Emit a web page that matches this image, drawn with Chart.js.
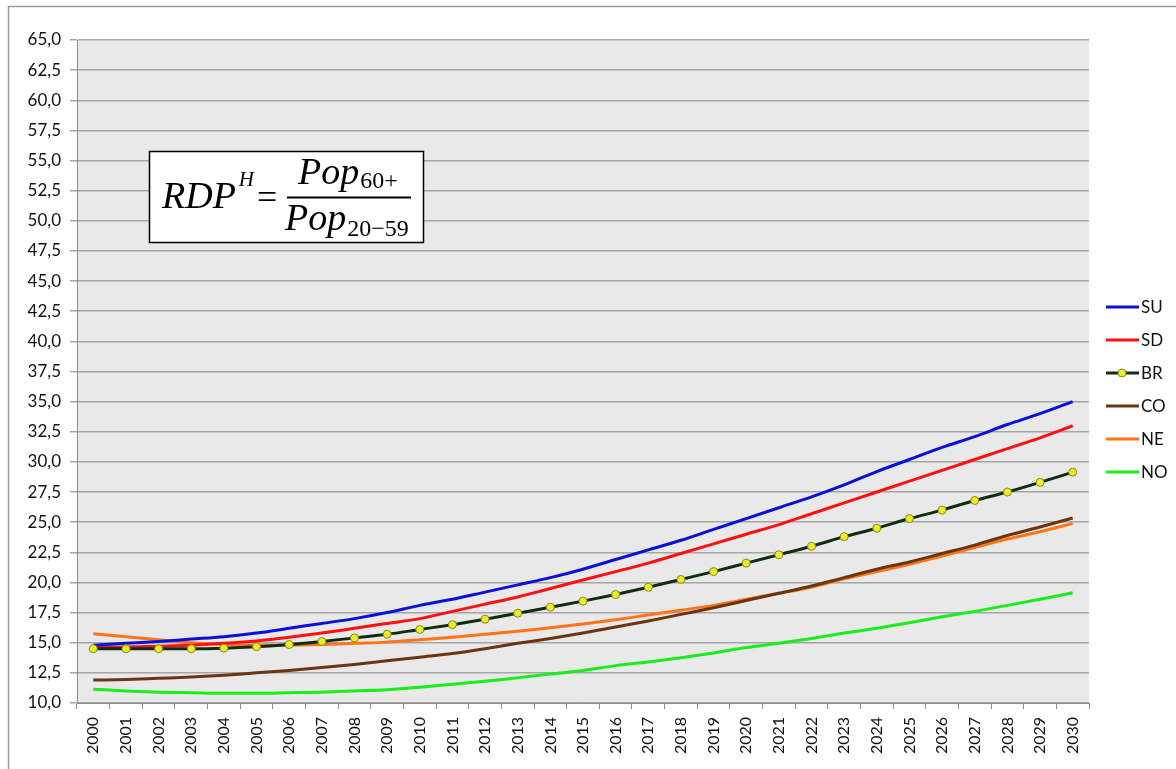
<!DOCTYPE html>
<html>
<head>
<meta charset="utf-8">
<script src="https://cdn.jsdelivr.net/npm/chart.js@4"></script>
<style>
html,body{margin:0;padding:0;background:#fff;}
#wrap{position:relative;width:1176px;height:769px;}
</style>
</head>
<body>
<div id="wrap"><canvas id="c" width="1176" height="769"></canvas></div>
<script>
const years = [2000,2001,2002,2003,2004,2005,2006,2007,2008,2009,2010,2011,2012,2013,2014,2015,2016,2017,2018,2019,2020,2021,2022,2023,2024,2025,2026,2027,2028,2029,2030].map(String);
const SU = [14.8,14.95,15.1,15.3,15.5,15.8,16.2,16.6,17.0,17.5,18.1,18.6,19.2,19.8,20.4,21.1,21.9,22.7,23.5,24.4,25.3,26.2,27.1,28.1,29.2,30.2,31.2,32.1,33.1,34.0,35.0];
const SD = [14.6,14.65,14.7,14.8,14.95,15.15,15.45,15.8,16.2,16.6,17.0,17.6,18.2,18.8,19.5,20.2,20.9,21.6,22.4,23.2,24.0,24.8,25.7,26.6,27.5,28.4,29.3,30.2,31.1,32.0,33.0];
const BR = [14.5,14.5,14.5,14.5,14.55,14.67,14.85,15.1,15.4,15.7,16.1,16.5,16.95,17.45,17.95,18.45,19.0,19.6,20.25,20.9,21.6,22.3,23.0,23.8,24.5,25.3,26.0,26.8,27.5,28.3,29.15];
const CO = [11.9,11.95,12.05,12.15,12.3,12.5,12.7,12.95,13.2,13.5,13.8,14.1,14.5,14.95,15.35,15.8,16.3,16.8,17.35,17.9,18.5,19.1,19.7,20.4,21.1,21.7,22.4,23.1,23.9,24.6,25.35];
const NE = [15.75,15.5,15.25,15.0,14.85,14.8,14.8,14.85,14.95,15.05,15.25,15.45,15.7,15.95,16.25,16.55,16.9,17.3,17.7,18.1,18.6,19.1,19.6,20.3,20.9,21.5,22.2,22.9,23.6,24.2,24.9];
const NO = [11.15,11.0,10.9,10.85,10.8,10.8,10.85,10.9,11.0,11.1,11.3,11.55,11.8,12.1,12.4,12.7,13.1,13.4,13.75,14.15,14.6,14.95,15.35,15.8,16.2,16.65,17.15,17.6,18.1,18.6,19.15];
const seriesNames = ['SU','SD','BR','CO','NE','NO'];
const seriesData = [SU,SD,BR,CO,NE,NO];
const seriesColors = ['#0a10d8','#ff1010','#0e2e0e','#6a3510','#ff7415','#18ee18'];
const yMin = 10, yMax = 65, yStep = 2.5;

const FONT = 'Lato, "Open Sans", sans-serif';

const datasets = seriesNames.map((n,i)=>({
  label:n,
  data:seriesData[i],
  borderColor:seriesColors[i],
  backgroundColor:seriesColors[i],
  borderWidth:3,
  tension:0.35,
  cubicInterpolationMode:'monotone',
  pointRadius: n==='BR'?4:0,
  pointBackgroundColor: n==='BR'?'#ecec2a':seriesColors[i],
  pointBorderColor: n==='BR'?'#8a8a1a':seriesColors[i],
  pointBorderWidth:1
}));
datasets.forEach((d,i)=>{ d.order = (d.label==='BR')?0:(i+1); });

const bgPlugin = {
  id:'bg',
  beforeDraw(chart){
    const {ctx, chartArea:a} = chart;
    ctx.save();
    ctx.fillStyle='#e9e9e9';
    ctx.fillRect(a.left,a.top,a.right-a.left,a.bottom-a.top);
    ctx.strokeStyle='#9a9a9a';
    ctx.lineWidth=1.5;
    ctx.beginPath();
    ctx.moveTo(8.5,769);
    ctx.lineTo(8.5,6.5);
    ctx.lineTo(1176,6.5);
    ctx.stroke();
    ctx.restore();
  },
  afterDraw(chart){
    const ctx = chart.ctx;
    ctx.save();
    const ly0 = 307, lsp = 33;
    chart.data.datasets.forEach((d,i)=>{
      const y = ly0 + i*lsp;
      ctx.strokeStyle=d.borderColor;
      ctx.lineWidth=3;
      ctx.beginPath(); ctx.moveTo(1106,y); ctx.lineTo(1139,y); ctx.stroke();
      if(d.pointRadius>0){
        ctx.fillStyle=d.pointBackgroundColor; ctx.strokeStyle=d.pointBorderColor; ctx.lineWidth=1;
        ctx.beginPath(); ctx.arc(1122,y,4,0,Math.PI*2); ctx.fill(); ctx.stroke();
      }
      ctx.fillStyle='#111';
      ctx.font='17px '+FONT;
      ctx.textBaseline='middle'; ctx.textAlign='left';
      ctx.fillText(d.label,1141,y+1);
    });
    // formula box
    ctx.fillStyle='#fff';
    ctx.fillRect(149,151,275,92);
    ctx.strokeStyle='#000'; ctx.lineWidth=1.5;
    ctx.strokeRect(149.5,151.5,274,91);
    ctx.fillStyle='#000';
    ctx.textBaseline='alphabetic'; ctx.textAlign='left';
    const serif='"Liberation Serif", "DejaVu Serif", serif';
    ctx.font='italic 38px '+serif;
    ctx.fillText('RDP',162,208);
    const wR = ctx.measureText('RDP').width;
    ctx.font='italic 21px '+serif;
    ctx.fillText('H',162+wR+3,186);
    ctx.font='36px '+serif;
    ctx.fillText('=',257,209);
    ctx.font='italic 38px '+serif;
    ctx.fillText('Pop',298,184);
    const wP = ctx.measureText('Pop').width;
    ctx.fillText('Pop',285,230);
    ctx.font='24px '+serif;
    ctx.fillText('60+',298+wP+1,188);
    ctx.fillText('20\u221259',285+wP+1,236);
    ctx.lineWidth=2;
    ctx.beginPath(); ctx.moveTo(287,197.5); ctx.lineTo(411,197.5); ctx.stroke();
    ctx.restore();
  }
};

new Chart(document.getElementById('c'),{
  type:'line',
  data:{labels:years,datasets},
  options:{
    responsive:false,
    animation:false,
    layout:{padding:{top:40,right:87,bottom:0,left:0}},
    plugins:{legend:{display:false},tooltip:{enabled:false}},
    scales:{
      x:{
        offset:true,
        afterFit(s){ s.height=66; },
        grid:{display:true,drawOnChartArea:false,drawTicks:true,offset:true,tickLength:6,color:'#8c8c8c',lineWidth:1},
        border:{display:true,color:'#8c8c8c',width:1},
        ticks:{minRotation:90,maxRotation:90,autoSkip:false,padding:8,color:'#111',font:{family:FONT,size:16}}
      },
      y:{
        min:yMin,max:yMax,
        afterFit(s){ s.width=77; },
        afterBuildTicks(s){ const t=[]; for(let v=yMin; v<=yMax+1e-9; v+=yStep) t.push({value:v}); s.ticks=t; },
        grid:{color:'#a6a6a6',lineWidth:1.5,tickLength:7},
        border:{display:true,color:'#8c8c8c',width:1},
        ticks:{stepSize:yStep,padding:9,color:'#111',font:{family:FONT,size:17},
          callback:(v)=>Number(v).toFixed(1).replace('.',',')}
      }
    }
  },
  plugins:[bgPlugin]
});
</script>
</body>
</html>
